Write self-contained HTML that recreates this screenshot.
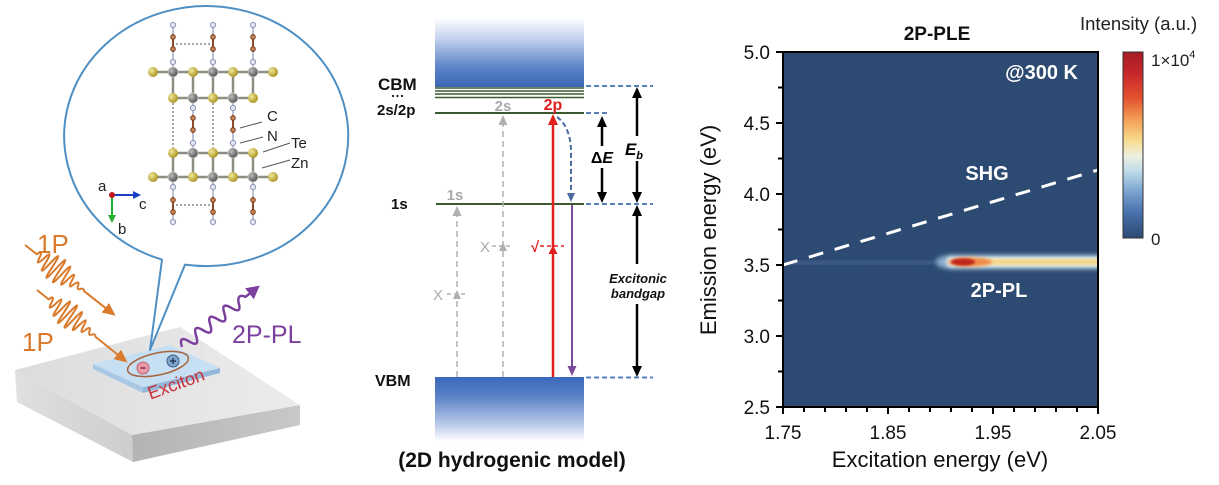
<!DOCTYPE html>
<html><head><meta charset="utf-8"><style>
html,body{margin:0;padding:0;background:#fff;}
svg{display:block;}
text{font-family:"Liberation Sans",Arial,sans-serif;}
</style></head><body>
<svg width="1219" height="485" viewBox="0 0 1219 485" xmlns="http://www.w3.org/2000/svg">
<defs>
<linearGradient id="cb" x1="0" y1="0" x2="0" y2="1"><stop offset="0" stop-color="#ffffff"/><stop offset="0.3" stop-color="#c3d2ee"/><stop offset="0.7" stop-color="#5f86c9"/><stop offset="1" stop-color="#3a66b6"/></linearGradient>
<linearGradient id="vb" x1="0" y1="0" x2="0" y2="1"><stop offset="0" stop-color="#3a68bc"/><stop offset="0.3" stop-color="#5a80c6"/><stop offset="0.75" stop-color="#bccbea"/><stop offset="1" stop-color="#ffffff"/></linearGradient>
<linearGradient id="cbar" x1="0" y1="0" x2="0" y2="1">
<stop offset="0" stop-color="#a51c24"/><stop offset="0.12" stop-color="#c8282a"/><stop offset="0.25" stop-color="#e2542f"/><stop offset="0.37" stop-color="#f4a35a"/><stop offset="0.47" stop-color="#f7d98a"/><stop offset="0.56" stop-color="#eef0e0"/><stop offset="0.64" stop-color="#c0dcea"/><stop offset="0.74" stop-color="#7fa8d2"/><stop offset="0.86" stop-color="#4a72ad"/><stop offset="1" stop-color="#2c4a72"/></linearGradient>
<radialGradient id="te" cx="0.35" cy="0.35" r="0.7"><stop offset="0" stop-color="#f2e79a"/><stop offset="1" stop-color="#a8921c"/></radialGradient>
<radialGradient id="zn" cx="0.35" cy="0.35" r="0.7"><stop offset="0" stop-color="#bdbdbd"/><stop offset="1" stop-color="#4e4e4e"/></radialGradient>
<linearGradient id="topf" x1="0" y1="0" x2="1" y2="0"><stop offset="0" stop-color="#dcdcdc"/><stop offset="1" stop-color="#ececec"/></linearGradient>
<linearGradient id="leftf" x1="0" y1="0" x2="1" y2="0"><stop offset="0" stop-color="#e0e0e0"/><stop offset="1" stop-color="#cdcdcd"/></linearGradient>
<linearGradient id="rightf" x1="0" y1="0" x2="1" y2="0"><stop offset="0" stop-color="#b4b4b4"/><stop offset="1" stop-color="#c8c8c8"/></linearGradient>
<filter id="bl1" x="-50%" y="-200%" width="200%" height="500%"><feGaussianBlur stdDeviation="1"/></filter>
<filter id="bl15" x="-50%" y="-200%" width="200%" height="500%"><feGaussianBlur stdDeviation="1.5"/></filter>
<filter id="bl25" x="-50%" y="-200%" width="200%" height="500%"><feGaussianBlur stdDeviation="2.5"/></filter>
<filter id="bl4" x="-50%" y="-200%" width="200%" height="500%"><feGaussianBlur stdDeviation="4"/></filter>
<clipPath id="pc"><rect x="783" y="52" width="315" height="355"/></clipPath>
</defs>

<!-- ================= LEFT PANEL ================= -->
<polygon points="15,370 132,435 133,462 17,402" fill="url(#leftf)"/>
<polygon points="132,435 300,405 300,425 133,462" fill="url(#rightf)"/>
<polygon points="15,370 180,327 300,405 132,435" fill="url(#topf)"/>
<polygon points="93,364 143,387 143,393 93,369" fill="#a9c8e4"/>
<polygon points="143,387 220,368 220,373 143,393" fill="#94b6d8"/>
<polygon points="93,364 170,345 220,368 143,387" fill="#c6dff3"/>
<ellipse cx="158" cy="364" rx="31" ry="11" transform="rotate(-12 158 364)" fill="none" stroke="#a8643c" stroke-width="1.5"/>
<circle cx="143" cy="368" r="6" fill="#e89aa8" stroke="#c06070" stroke-width="1"/>
<line x1="140.5" y1="368" x2="145.5" y2="368" stroke="#7a2030" stroke-width="1.3"/>
<circle cx="173" cy="361" r="6" fill="#7fa4cc" stroke="#3e5e88" stroke-width="1"/>
<line x1="170" y1="361" x2="176" y2="361" stroke="#1e3050" stroke-width="1.3"/>
<line x1="173" y1="358" x2="173" y2="364" stroke="#1e3050" stroke-width="1.3"/>
<text x="176" y="390" font-size="18" fill="#c8303a" text-anchor="middle" transform="rotate(-20 176 384)">Exciton</text>

<path d="M162,259.6 A142,130 0 1,1 185,264.6 L150,350 Z" fill="#ffffff" stroke="#4e8fc4" stroke-width="2" stroke-linejoin="round"/>

<g stroke="#8e8e80" stroke-width="2.5">
<line x1="153" y1="72" x2="273" y2="72"/><line x1="173" y1="98" x2="253" y2="98"/>
<line x1="173" y1="72" x2="173" y2="98"/><line x1="193" y1="72" x2="193" y2="98"/><line x1="213" y1="72" x2="213" y2="98"/><line x1="233" y1="72" x2="233" y2="98"/><line x1="253" y1="72" x2="253" y2="98"/>
<line x1="173" y1="153" x2="253" y2="153"/><line x1="153" y1="177" x2="273" y2="177"/>
<line x1="173" y1="153" x2="173" y2="177"/><line x1="193" y1="153" x2="193" y2="177"/><line x1="213" y1="153" x2="213" y2="177"/><line x1="233" y1="153" x2="233" y2="177"/><line x1="253" y1="153" x2="253" y2="177"/>
</g>
<g stroke="#a4aac4" stroke-width="1.5">
<line x1="173" y1="25" x2="173" y2="72"/><line x1="213" y1="25" x2="213" y2="72"/><line x1="253" y1="25" x2="253" y2="72"/>
<line x1="193" y1="98" x2="193" y2="153"/><line x1="233" y1="98" x2="233" y2="153"/>
<line x1="173" y1="177" x2="173" y2="222"/><line x1="213" y1="177" x2="213" y2="222"/><line x1="253" y1="177" x2="253" y2="222"/>
</g>
<g stroke="#8b4a2b" stroke-width="2">
<line x1="173" y1="34" x2="173" y2="52"/><line x1="213" y1="34" x2="213" y2="52"/><line x1="253" y1="34" x2="253" y2="52"/>
<line x1="193" y1="115" x2="193" y2="133"/><line x1="233" y1="115" x2="233" y2="133"/>
<line x1="173" y1="197" x2="173" y2="215"/><line x1="213" y1="197" x2="213" y2="215"/><line x1="253" y1="197" x2="253" y2="215"/>
</g>
<g stroke="#555" stroke-width="1" stroke-dasharray="2,2">
<line x1="176" y1="44" x2="210" y2="44"/><line x1="176" y1="205" x2="210" y2="205"/>
<line x1="173" y1="103" x2="173" y2="148"/><line x1="213" y1="103" x2="213" y2="148"/>
</g>
<g fill="#e4e6f2" stroke="#8a96bc" stroke-width="1">
<circle cx="173" cy="25" r="2.6"/><circle cx="213" cy="25" r="2.6"/><circle cx="253" cy="25" r="2.6"/>
<circle cx="173" cy="62" r="2.6"/><circle cx="213" cy="62" r="2.6"/><circle cx="253" cy="62" r="2.6"/>
<circle cx="193" cy="108" r="2.6"/><circle cx="233" cy="108" r="2.6"/><circle cx="193" cy="143" r="2.6"/><circle cx="233" cy="143" r="2.6"/>
<circle cx="173" cy="187" r="2.6"/><circle cx="213" cy="187" r="2.6"/><circle cx="253" cy="187" r="2.6"/>
<circle cx="173" cy="222" r="2.6"/><circle cx="213" cy="222" r="2.6"/><circle cx="253" cy="222" r="2.6"/>
</g>
<g fill="#c98a5a" stroke="#7a3a1a" stroke-width="1">
<circle cx="173" cy="37" r="2.3"/><circle cx="173" cy="49" r="2.3"/><circle cx="213" cy="37" r="2.3"/><circle cx="213" cy="49" r="2.3"/><circle cx="253" cy="37" r="2.3"/><circle cx="253" cy="49" r="2.3"/>
<circle cx="193" cy="118" r="2.3"/><circle cx="193" cy="130" r="2.3"/><circle cx="233" cy="118" r="2.3"/><circle cx="233" cy="130" r="2.3"/>
<circle cx="173" cy="200" r="2.3"/><circle cx="173" cy="212" r="2.3"/><circle cx="213" cy="200" r="2.3"/><circle cx="213" cy="212" r="2.3"/><circle cx="253" cy="200" r="2.3"/><circle cx="253" cy="212" r="2.3"/>
</g>
<g fill="url(#te)">
<circle cx="153" cy="72" r="5"/><circle cx="193" cy="72" r="5"/><circle cx="233" cy="72" r="5"/><circle cx="273" cy="72" r="5"/>
<circle cx="173" cy="98" r="5"/><circle cx="213" cy="98" r="5"/><circle cx="253" cy="98" r="5"/>
<circle cx="173" cy="153" r="5"/><circle cx="213" cy="153" r="5"/><circle cx="253" cy="153" r="5"/>
<circle cx="153" cy="177" r="5"/><circle cx="193" cy="177" r="5"/><circle cx="233" cy="177" r="5"/><circle cx="273" cy="177" r="5"/>
</g>
<g fill="url(#zn)" stroke="#d0d0d0" stroke-width="0.8">
<circle cx="173" cy="72" r="5"/><circle cx="213" cy="72" r="5"/><circle cx="253" cy="72" r="5"/>
<circle cx="193" cy="98" r="5"/><circle cx="233" cy="98" r="5"/>
<circle cx="193" cy="153" r="5"/><circle cx="233" cy="153" r="5"/>
<circle cx="173" cy="177" r="5"/><circle cx="213" cy="177" r="5"/><circle cx="253" cy="177" r="5"/>
</g>
<g stroke="#555" stroke-width="1">
<line x1="240" y1="128" x2="262" y2="122"/><line x1="240" y1="143" x2="263" y2="137"/>
<line x1="263" y1="152" x2="290" y2="143"/><line x1="262" y1="168" x2="290" y2="160"/>
</g>
<g font-size="15" fill="#222">
<text x="267" y="121">C</text><text x="267" y="141">N</text><text x="291" y="148">Te</text><text x="291" y="168">Zn</text>
</g>
<line x1="112" y1="195" x2="134" y2="195" stroke="#1b3fc4" stroke-width="2"/>
<polygon points="141,195 133,191 133,199" fill="#1b3fc4"/>
<line x1="112" y1="195" x2="112" y2="215" stroke="#22b030" stroke-width="2"/>
<polygon points="112,223 108,215 116,215" fill="#22b030"/>
<circle cx="112" cy="195" r="3" fill="#c01818"/>
<g font-size="15" fill="#222"><text x="98" y="191">a</text><text x="139" y="209">c</text><text x="118" y="234">b</text></g>

<g fill="none" stroke="#d97a2c" stroke-width="2" stroke-linejoin="round">
<path transform="translate(25,245) rotate(38)" d="M0,0 L15,0 Q17,-8 19,0 Q21,11.6 23,0 Q25,-15.8 27,0 Q29,19.8 31,0 Q33,-23.4 35,0 Q37,25.4 39,0 Q41,-26 43,0 Q45,24.6 47,0 Q49,-21.8 51,0 Q53,17.8 55,0 Q57,-13.6 59,0 Q61,9.8 63,0 Q65,-6.4 67,0 Q69,4 71,0 Q73,-2.4 75,0 L104,0"/>
<path transform="translate(37,290) rotate(38.7)" d="M0,0 L15,0 Q17,-8 19,0 Q21,11.6 23,0 Q25,-15.8 27,0 Q29,19.8 31,0 Q33,-23.4 35,0 Q37,25.4 39,0 Q41,-26 43,0 Q45,24.6 47,0 Q49,-21.8 51,0 Q53,17.8 55,0 Q57,-13.6 59,0 Q61,9.8 63,0 Q65,-6.4 67,0 Q69,4 71,0 Q73,-2.4 75,0 L105,0"/>
</g>
<polygon transform="translate(25,245) rotate(38)" points="115,0 102,-6 102,6" fill="#d97a2c"/>
<polygon transform="translate(37,290) rotate(38.7)" points="116,0 103,-6 103,6" fill="#d97a2c"/>
<g font-size="26" fill="#d97a2c"><text x="37" y="253">1P</text><text x="22" y="351">1P</text></g>

<path transform="translate(182,347) rotate(-38.3)" d="M0,0 Q4.5,-12 9,0 Q13.5,12 18,0 Q22.5,-12 27,0 Q31.5,12 36,0 Q40.5,-12 45,0 Q49.5,12 54,0 Q58.5,-12 63,0 Q67.5,12 72,0 Q76.5,-8 81,0 L88,0" fill="none" stroke="#7b3f9e" stroke-width="2.5" stroke-linejoin="round"/>
<polygon transform="translate(182,347) rotate(-38.3)" points="99,0 86,-7 86,7" fill="#7b3f9e"/>
<text x="232" y="343" font-size="25" fill="#7b3f9e">2P-PL</text>

<!-- ================= MIDDLE PANEL ================= -->
<rect x="435" y="18" width="149" height="69" fill="url(#cb)"/>
<rect x="435" y="377" width="149" height="64" fill="url(#vb)"/>
<g stroke="#3c5a30">
<line x1="435" y1="88" x2="584" y2="88" stroke-width="1.6"/>
<line x1="435" y1="91" x2="584" y2="91" stroke-width="1.4"/>
<line x1="435" y1="94" x2="584" y2="94" stroke-width="1.4"/>
<line x1="435" y1="97.5" x2="584" y2="97.5" stroke-width="1.6"/>
<line x1="435" y1="113" x2="584" y2="113" stroke-width="2"/>
<line x1="436" y1="204" x2="584" y2="204" stroke-width="2"/>
</g>
<g stroke="#5a80b8" stroke-width="2" stroke-dasharray="5,3">
<line x1="586" y1="86" x2="653" y2="86"/><line x1="586" y1="113" x2="609" y2="113"/>
<line x1="586" y1="204" x2="653" y2="204"/><line x1="586" y1="377.5" x2="653" y2="377.5"/>
</g>
<g font-weight="bold" fill="#111">
<text x="378" y="90" font-size="17">CBM</text>
<text x="377" y="115" font-size="15">2s/2p</text>
<text x="391" y="209" font-size="15">1s</text>
<text x="375" y="386" font-size="16">VBM</text>
<text x="512" y="467" font-size="21" text-anchor="middle">(2D hydrogenic model)</text>
</g>
<g fill="#111"><circle cx="393" cy="96" r="1.1"/><circle cx="397.5" cy="96" r="1.1"/><circle cx="402" cy="96" r="1.1"/></g>

<g stroke="#b0b0b0" stroke-width="1.5" stroke-dasharray="6,4" fill="none">
<line x1="457" y1="377" x2="457" y2="215"/>
<line x1="503" y1="377" x2="503" y2="124"/>
<line x1="447" y1="294" x2="468" y2="294" stroke-dasharray="4,3"/>
<line x1="492" y1="246" x2="513" y2="246" stroke-dasharray="4,3"/>
</g>
<g fill="#b0b0b0">
<polygon points="457,206 452.5,216 461.5,216"/>
<polygon points="503,115 498.5,125 507.5,125"/>
<polygon points="457,290 453,299 461,299"/>
<polygon points="503,242 499,251 507,251"/>
</g>
<g font-size="15" fill="#aaaaaa">
<text x="438" y="300" text-anchor="middle">X</text>
<text x="485" y="252" text-anchor="middle">X</text>
</g>
<g font-size="15" font-weight="bold" fill="#aaaaaa">
<text x="455" y="200" text-anchor="middle">1s</text>
<text x="503" y="111" text-anchor="middle">2s</text>
</g>
<line x1="553" y1="377" x2="553" y2="123" stroke="#e0201c" stroke-width="2.5"/>
<polygon points="553,114 548,125 558,125" fill="#e0201c"/>
<polygon points="553,245 548.5,254 557.5,254" fill="#e0201c"/>
<line x1="540" y1="246" x2="564" y2="246" stroke="#e0201c" stroke-width="1.5" stroke-dasharray="4,3"/>
<text x="535" y="252" font-size="15" font-weight="bold" fill="#e0201c" text-anchor="middle">√</text>
<text x="553" y="110" font-size="16" font-weight="bold" fill="#e0201c" text-anchor="middle">2p</text>
<path d="M557,117 C567,124 571,138 571,152 L571,192" fill="none" stroke="#4a6aa0" stroke-width="2" stroke-dasharray="5,3"/>
<polygon points="571,202 567,193 575,193" fill="#4a6aa0"/>
<line x1="572" y1="205" x2="572" y2="367" stroke="#7a4a9a" stroke-width="2"/>
<polygon points="572,376 567.5,366 576.5,366" fill="#7a4a9a"/>
<g stroke="#000" stroke-width="2.5">
<line x1="602" y1="125" x2="602" y2="146"/><line x1="602" y1="168" x2="602" y2="194"/>
<line x1="637" y1="96" x2="637" y2="136"/><line x1="637" y1="161" x2="637" y2="194"/>
<line x1="637" y1="214" x2="637" y2="264"/><line x1="637" y1="304" x2="637" y2="368"/>
</g>
<g fill="#000">
<polygon points="602,116 597,127 607,127"/><polygon points="602,203 597,192 607,192"/>
<polygon points="637,87 632,98 642,98"/><polygon points="637,203 632,192 642,192"/>
<polygon points="637,205 632,216 642,216"/><polygon points="637,377 632,366 642,366"/>
</g>
<text x="602" y="163" font-size="16" font-weight="bold" fill="#000" text-anchor="middle">Δ<tspan font-style="italic">E</tspan></text>
<text x="634" y="155" font-size="17" font-weight="bold" font-style="italic" fill="#000" text-anchor="middle">E<tspan font-size="11" dy="4">b</tspan></text>
<g font-size="13" font-weight="bold" font-style="italic" fill="#111" text-anchor="middle">
<text x="638" y="283">Excitonic</text><text x="638" y="298">bandgap</text>
</g>

<!-- ================= RIGHT PANEL ================= -->
<rect x="783" y="52" width="315" height="355" fill="#2c4a72"/>
<g clip-path="url(#pc)">
<line x1="790" y1="263" x2="945" y2="262" stroke="#8fb0d6" stroke-width="3" opacity="0.3" filter="url(#bl25)"/>
<ellipse cx="944" cy="262" rx="8" ry="6" fill="#9cc0e0" opacity="0.8" filter="url(#bl25)"/>
<rect x="945" y="255" width="170" height="14" rx="6" fill="#a8c8e0" filter="url(#bl25)"/>
<rect x="947" y="257.5" width="168" height="9" rx="4" fill="#eef2e8" filter="url(#bl15)"/>
<rect x="956" y="259" width="160" height="6" fill="#f5d88c" filter="url(#bl1)"/>
<ellipse cx="970" cy="262" rx="22" ry="4.5" fill="#ef8a48" filter="url(#bl15)"/>
<ellipse cx="963" cy="262" rx="12" ry="3.6" fill="#c0281f" filter="url(#bl1)"/>
<line x1="783" y1="265" x2="1098" y2="170" stroke="#ffffff" stroke-width="3" stroke-dasharray="15,12"/>
</g>
<rect x="783" y="52" width="315" height="355" fill="none" stroke="#000" stroke-width="2"/>
<g stroke="#000" stroke-width="2">
<line x1="776" y1="52" x2="783" y2="52"/><line x1="778" y1="87.5" x2="783" y2="87.5"/>
<line x1="776" y1="123" x2="783" y2="123"/><line x1="778" y1="158.5" x2="783" y2="158.5"/>
<line x1="776" y1="194" x2="783" y2="194"/><line x1="778" y1="229.5" x2="783" y2="229.5"/>
<line x1="776" y1="265" x2="783" y2="265"/><line x1="778" y1="300.5" x2="783" y2="300.5"/>
<line x1="776" y1="336" x2="783" y2="336"/><line x1="778" y1="371.5" x2="783" y2="371.5"/>
<line x1="776" y1="407" x2="783" y2="407"/>
</g>
<g stroke="#000" stroke-width="2">
<line x1="783" y1="407" x2="783" y2="414"/><line x1="804" y1="407" x2="804" y2="412"/><line x1="825" y1="407" x2="825" y2="412"/><line x1="846" y1="407" x2="846" y2="412"/><line x1="867" y1="407" x2="867" y2="412"/>
<line x1="888" y1="407" x2="888" y2="414"/><line x1="909" y1="407" x2="909" y2="412"/><line x1="930" y1="407" x2="930" y2="412"/><line x1="951" y1="407" x2="951" y2="412"/><line x1="972" y1="407" x2="972" y2="412"/>
<line x1="993" y1="407" x2="993" y2="414"/><line x1="1014" y1="407" x2="1014" y2="412"/><line x1="1035" y1="407" x2="1035" y2="412"/><line x1="1056" y1="407" x2="1056" y2="412"/><line x1="1077" y1="407" x2="1077" y2="412"/>
<line x1="1098" y1="407" x2="1098" y2="414"/>
</g>
<g font-size="19" fill="#111" text-anchor="end">
<text x="770" y="59">5.0</text><text x="770" y="130">4.5</text><text x="770" y="201">4.0</text>
<text x="770" y="272">3.5</text><text x="770" y="343">3.0</text><text x="770" y="414">2.5</text>
</g>
<g font-size="19" fill="#111" text-anchor="middle">
<text x="783" y="439">1.75</text><text x="888" y="439">1.85</text><text x="993" y="439">1.95</text><text x="1098" y="439">2.05</text>
</g>
<text x="940" y="467" font-size="22" fill="#111" text-anchor="middle">Excitation energy (eV)</text>
<text x="0" y="0" font-size="22" fill="#111" text-anchor="middle" transform="translate(716,230) rotate(-90)">Emission energy (eV)</text>
<text x="937" y="40" font-size="19" font-weight="bold" fill="#111" text-anchor="middle">2P-PLE</text>
<text x="1078" y="79" font-size="20" font-weight="bold" fill="#fff" text-anchor="end">@300 K</text>
<text x="987" y="180" font-size="20" font-weight="bold" fill="#fff" text-anchor="middle">SHG</text>
<text x="999" y="297" font-size="20" font-weight="bold" fill="#fff" text-anchor="middle">2P-PL</text>
<rect x="1123" y="52" width="20" height="186" fill="url(#cbar)" stroke="#333" stroke-width="1"/>
<text x="1080" y="30" font-size="18.5" fill="#222">Intensity (a.u.)</text>
<text x="1151" y="66" font-size="17" fill="#222">1×10<tspan font-size="11" dy="-8">4</tspan></text>
<text x="1151" y="245" font-size="17" fill="#222">0</text>
</svg>
</body></html>
